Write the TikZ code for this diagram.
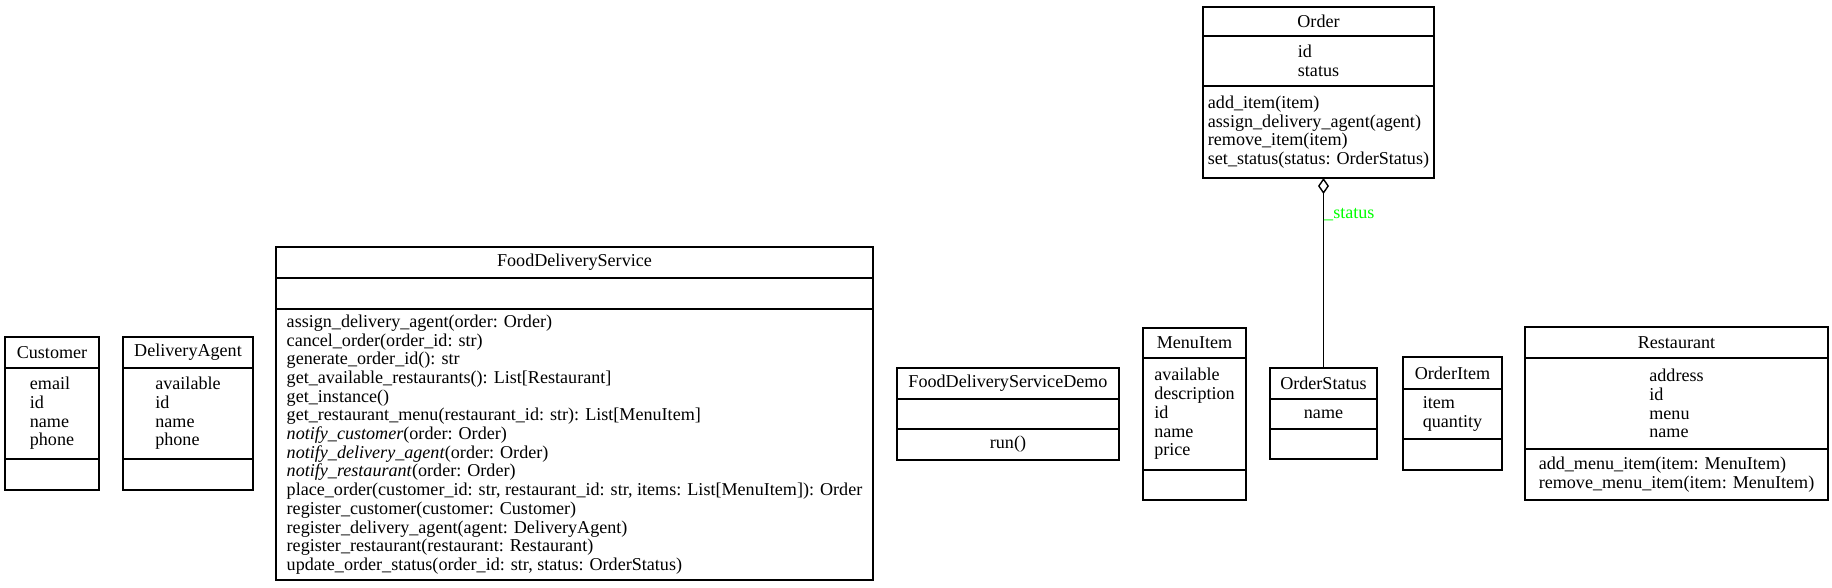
\documentclass[tikz,border=0pt]{standalone}
\usepackage{fontspec}
\setmainfont{Liberation Serif}
\usetikzlibrary{positioning,arrows.meta}
\definecolor{lblgreen}{RGB}{0,255,0}

\tikzset{
  uml_box/.style = {draw=black, line width=1.4pt, inner sep=0pt, outer sep=0pt,
    font=\fontsize{18.1}{18.7}\selectfont},
  uml_head/.style = {uml_box, align=center},% nom de classe
  uml_sec/.style = {uml_box, align=left},% attributs / methodes
  uml_agg/.style = {line width=1.4pt, -{Diamond[open, length=16pt, width=11pt]}},
  uml_lbl/.style = {font=\fontsize{18.1}{18.7}\selectfont, text=lblgreen,
    inner sep=0pt, anchor=west}
}

\begin{document}
\begin{tikzpicture}[x=1pt, y=-1pt]
  \useasboundingbox (0,0) rectangle (1832,587);

  % Customer
  \node [uml_head, minimum width=94pt, minimum height=31pt, anchor=north] (cust) at (52,337) {Customer};
  \node [uml_sec, minimum width=94pt, minimum height=91pt, below=0pt of cust] (cust_a) {email\\id\\name\\phone};
  \node [uml_sec, minimum width=94pt, minimum height=31pt, below=0pt of cust_a] (cust_m) {};

  % DeliveryAgent
  \node [uml_head, minimum width=130pt, minimum height=31pt, anchor=north] (agent) at (188,337) {DeliveryAgent};
  \node [uml_sec, minimum width=130pt, minimum height=91pt, below=0pt of agent] (agent_a) {available\\id\\name\\phone};
  \node [uml_sec, minimum width=130pt, minimum height=31pt, below=0pt of agent_a] (agent_m) {};

  % FoodDeliveryService
  \node [uml_head, minimum width=597pt, minimum height=31pt, anchor=north] (fds) at (574.5,247) {FoodDeliveryService};
  \node [uml_sec, minimum width=597pt, minimum height=31pt, below=0pt of fds] (fds_a) {};
  \node [uml_sec, minimum width=597pt, minimum height=271pt, below=0pt of fds_a] (fds_m) {%
    assign\_delivery\_agent(order: Order)\\
    cancel\_order(order\_id: str)\\
    generate\_order\_id(): str\\
    get\_available\_restaurants(): List[Restaurant]\\
    get\_instance()\\
    get\_restaurant\_menu(restaurant\_id: str): List[MenuItem]\\
    \textit{notify\_customer}(order: Order)\\
    \textit{notify\_delivery\_agent}(order: Order)\\
    \textit{notify\_restaurant}(order: Order)\\
    place\_order(customer\_id: str, restaurant\_id: str, items: List[MenuItem]): Order\\
    register\_customer(customer: Customer)\\
    register\_delivery\_agent(agent: DeliveryAgent)\\
    register\_restaurant(restaurant: Restaurant)\\
    update\_order\_status(order\_id: str, status: OrderStatus)};

  % FoodDeliveryServiceDemo
  \node [uml_head, minimum width=222pt, minimum height=31pt, anchor=north] (demo) at (1008,368) {FoodDeliveryServiceDemo};
  \node [uml_sec, minimum width=222pt, minimum height=30pt, below=0pt of demo] (demo_a) {};
  \node [uml_sec, minimum width=222pt, minimum height=31pt, below=0pt of demo_a] (demo_m) {run()};

  % MenuItem
  \node [uml_head, minimum width=103pt, minimum height=30pt, anchor=north] (menu) at (1194.5,328) {MenuItem};
  \node [uml_sec, minimum width=103pt, minimum height=112pt, below=0pt of menu] (menu_a) {available\\description\\id\\name\\price};
  \node [uml_sec, minimum width=103pt, minimum height=30pt, below=0pt of menu_a] (menu_m) {};

  % OrderStatus
  \node [uml_head, minimum width=107pt, minimum height=31pt, anchor=north] (ostat) at (1323.5,368) {OrderStatus};
  \node [uml_sec, minimum width=107pt, minimum height=30pt, below=0pt of ostat] (ostat_a) {name};
  \node [uml_sec, minimum width=107pt, minimum height=30pt, below=0pt of ostat_a] (ostat_m) {};

  % OrderItem
  \node [uml_head, minimum width=99pt, minimum height=32pt, anchor=north] (oitem) at (1452.5,357) {OrderItem};
  \node [uml_sec, minimum width=99pt, minimum height=50pt, below=0pt of oitem] (oitem_a) {item\\quantity};
  \node [uml_sec, minimum width=99pt, minimum height=31pt, below=0pt of oitem_a] (oitem_m) {};

  % Restaurant
  \node [uml_head, minimum width=303pt, minimum height=31pt, anchor=north] (resto) at (1676.5,327) {Restaurant};
  \node [uml_sec, minimum width=303pt, minimum height=91pt, below=0pt of resto] (resto_a) {address\\id\\menu\\name};
  \node [uml_sec, minimum width=303pt, minimum height=51pt, below=0pt of resto_a] (resto_m) {%
    add\_menu\_item(item: MenuItem)\\
    remove\_menu\_item(item: MenuItem)};

  % Order
  \node [uml_head, minimum width=231pt, minimum height=29pt, anchor=north] (ord) at (1318.5,7) {Order};
  \node [uml_sec, minimum width=231pt, minimum height=50pt, below=0pt of ord] (ord_a) {id\\status};
  \node [uml_sec, minimum width=231pt, minimum height=92pt, below=0pt of ord_a] (ord_m) {%
    add\_item(item)\\
    assign\_delivery\_agent(agent)\\
    remove\_item(item)\\
    set\_status(status: OrderStatus)};

  % OrderStatus --<> Order
  \draw [uml_agg] (ostat.north) -- (ostat.north |- ord_m.south)
    node [uml_lbl, pos=0.81] (ostat_lbl) {\_status};
\end{tikzpicture}
\end{document}
